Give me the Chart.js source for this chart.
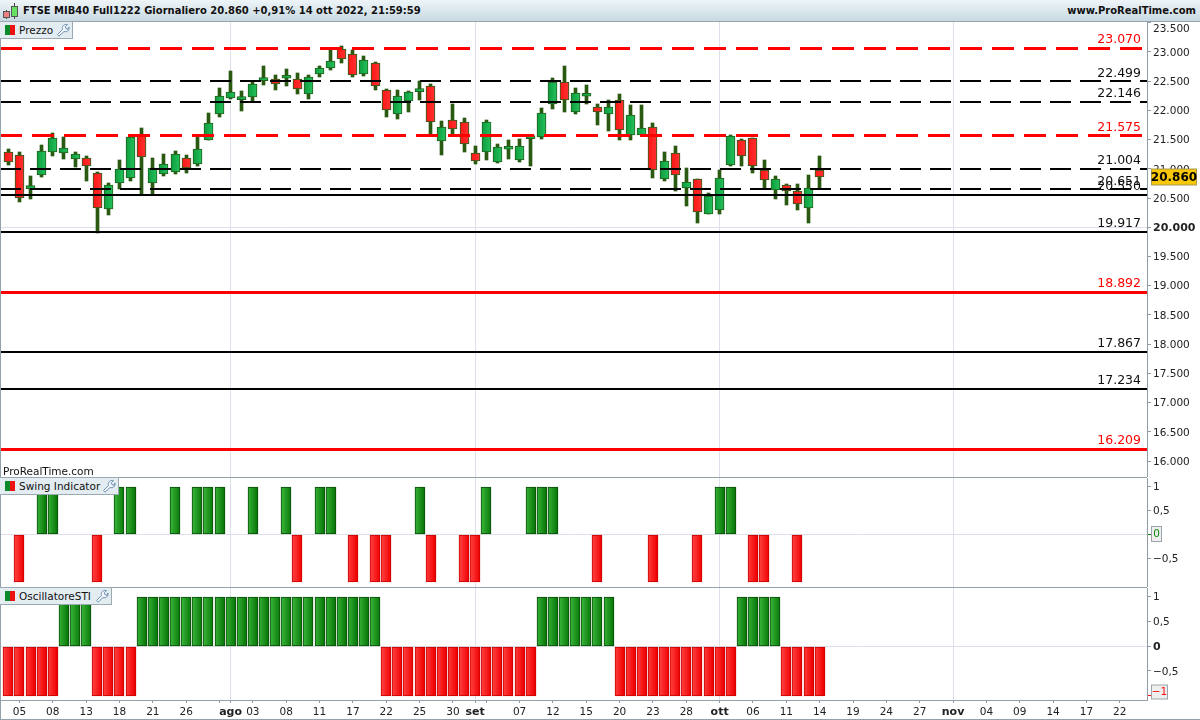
<!DOCTYPE html>
<html>
<head>
<meta charset="utf-8">
<title>FTSE MIB40</title>
<script src="https://cdn.jsdelivr.net/npm/chart.js@4/dist/chart.umd.min.js"></script>
<style>
    body { margin: 0; background: #fff; font-family: "DejaVu Sans", sans-serif; color: #111; overflow: hidden; }
    #page { position: relative; width: 1200px; height: 720px; overflow: hidden; }
    canvas { position: absolute; left: 0; }
    #header { position: absolute; left: 0; top: 0; width: 1200px; height: 21px; background: linear-gradient(#eef5f8, #c8d9e2); border-bottom: 1px solid #93a4ad; font-family: "DejaVu Sans Condensed", "DejaVu Sans", sans-serif; font-weight: bold; font-size: 11.1px; line-height: 22px; }
    #title { position: absolute; left: 23px; top: 0; white-space: nowrap; }
    #site { position: absolute; right: 4px; top: 0; white-space: nowrap; }
    .rule { position: absolute; left: 0; width: 1147px; height: 1px; background: #93a1a9; }
    .tab { position: absolute; left: 0; height: 16px; background: #e3ecf1; border: 1px solid #9aa9b2; border-left: 0; font-size: 10.5px; line-height: 16px; padding-left: 19px; white-space: nowrap; }
    .tab i { position: absolute; left: 5px; top: 3px; width: 5px; height: 10px; background: #0a8a2a; border-right: 5px solid #ee1111; }
    .tab svg { position: absolute; right: 2px; top: 1px; }
    #brand { position: absolute; left: 3px; top: 464px; font-size: 10.5px; line-height: 14px; }
</style>
</head>
<body>
<div id="page">
    <canvas id="priceChart" width="1200" height="455" style="top:22px"></canvas>
    <canvas id="swingChart" width="1200" height="109" style="top:478px"></canvas>
    <canvas id="stiChart" width="1200" height="132" style="top:588px"></canvas>
    <div id="header">
        <svg style="position:absolute;left:2px;top:3px" width="17" height="17" viewBox="0 0 17 17">
            <path d="M4.5 7V16M12.5 0V16" stroke="#444" fill="none"/>
            <rect x="1.5" y="8.5" width="6" height="6" fill="#f08080" stroke="#555"/>
            <rect x="9.5" y="3.5" width="6" height="10" fill="#66e060" stroke="#555"/>
        </svg>
        <span id="title">FTSE MIB40 Full1222 Giornaliero 20.860 +0,91% 14 ott 2022, 21:59:59</span>
        <span id="site">www.ProRealTime.com</span>
    </div>
    <div class="rule" style="top:477px"></div>
    <div class="rule" style="top:587px"></div>
    <div class="rule" style="top:700px"></div>
    <div class="rule" style="top:719px;width:1200px"></div>
    <div class="rule" style="top:22px;width:1px;height:697px"></div>
    <div id="brand">ProRealTime.com</div>
    <div class="tab" style="top:21px;width:53px">Prezzo</div>
    <div class="tab" style="top:477px;width:99px">Swing Indicator</div>
    <div class="tab" style="top:587px;width:92px">OscillatoreSTI</div>
</div>

<script>
// candles, oldest first (04 lug -> 14 ott 2022)
const opens = [21284, 21232, 20661, 20900, 21294, 21277, 21174, 21181, 20924, 20308, 20763, 20849, 21574, 20763, 20917, 20952, 21181, 21088, 21489, 21944, 22218, 22184, 22225, 22509, 22533, 22550, 22543, 22286, 22629, 22721, 23051, 22961, 22629, 22807, 22345, 21944, 22167, 22321, 22413, 21472, 21831, 21797, 21266, 21294, 21123, 21335, 21157, 21516, 21550, 22105, 22482, 21973, 22242, 22054, 21944, 22173, 21574, 21585, 21711, 20832, 21266, 20678, 20822, 20233, 20301, 21071, 21489, 21523, 20975, 20633, 20719, 20616, 20325, 20975];
const highs = [21340, 21284, 20878, 21408, 21609, 21545, 21289, 21220, 20941, 20753, 21152, 21562, 21699, 21186, 21254, 21311, 21237, 21550, 21956, 22384, 22675, 22333, 22492, 22760, 22601, 22704, 22641, 22601, 22760, 23034, 23103, 23034, 22932, 22829, 22367, 22350, 22333, 22504, 22452, 21819, 22110, 21871, 21391, 21836, 21426, 21494, 21511, 21550, 22042, 22555, 22760, 22384, 22435, 22110, 22179, 22281, 22093, 22093, 21785, 21289, 21391, 21015, 20822, 20587, 20981, 21580, 21511, 21528, 21152, 20878, 20736, 20741, 20895, 21220];
const lows = [21071, 20438, 20484, 20866, 21225, 21174, 21027, 20792, 19897, 20210, 20655, 20797, 20570, 20570, 20883, 20912, 20934, 21054, 21489, 21888, 22191, 21995, 22161, 22440, 22355, 22423, 22286, 22196, 22572, 22697, 22817, 22572, 22594, 22350, 21888, 21853, 21973, 22179, 21580, 21237, 21597, 21289, 21083, 21152, 21100, 21169, 21118, 21049, 21511, 22025, 21973, 21939, 22110, 21751, 21648, 21494, 21494, 21585, 20844, 20792, 20621, 20365, 20074, 20233, 20228, 21049, 21049, 20929, 20673, 20484, 20382, 20296, 20074, 20673];
const closes = [21123, 20496, 20707, 21301, 21523, 21352, 21249, 21054, 20325, 20719, 20993, 21540, 21198, 21010, 21078, 21249, 21020, 21335, 21780, 22242, 22310, 22208, 22447, 22521, 22447, 22601, 22362, 22567, 22721, 22841, 22875, 22612, 22858, 22423, 22013, 22242, 22310, 22345, 21797, 21711, 21687, 21431, 21140, 21797, 21369, 21357, 21386, 21545, 21951, 22487, 22184, 22293, 22276, 21978, 22054, 21660, 21917, 21694, 20975, 21129, 20890, 20770, 20257, 20536, 20838, 21557, 21225, 21054, 20804, 20821, 20616, 20394, 20667, 20860];

const levelValues = [23070, 22499, 22146, 21575, 21004, 20651, 20550, 19917, 18892, 17867, 17234, 16209];
const levelLabels = ["23.070", "22.499", "22.146", "21.575", "21.004", "20.651", "20.550", "19.917", "18.892", "17.867", "17.234", "16.209"];
const levelColors = ["#ff0000", "#000000", "#000000", "#ff0000", "#000000", "#000000", "#000000", "#000000", "#ff0000", "#000000", "#000000", "#ff0000"];
const levelDashed = [true, true, true, true, true, true, false, false, false, false, false, false];

const swingValues = [0, -1, 0, 1, 1, 0, 0, 0, -1, 0, 1, 1, 0, 0, 0, 1, 0, 1, 1, 1, 0, 0, 1, 0, 0, 1, -1, 0, 1, 1, 0, -1, 0, -1, -1, 0, 0, 1, -1, 0, 0, -1, -1, 1, 0, 0, 0, 1, 1, 1, 0, 0, 0, -1, 0, 0, 0, 0, -1, 0, 0, 0, -1, 0, 1, 1, 0, -1, -1, 0, 0, -1, 0, 0];
const stiValues = [-1, -1, -1, -1, -1, 1, 1, 1, -1, -1, -1, -1, 1, 1, 1, 1, 1, 1, 1, 1, 1, 1, 1, 1, 1, 1, 1, 1, 1, 1, 1, 1, 1, 1, -1, -1, -1, -1, -1, -1, -1, -1, -1, -1, -1, -1, -1, -1, 1, 1, 1, 1, 1, 1, 1, -1, -1, -1, -1, -1, -1, -1, -1, -1, -1, -1, 1, 1, 1, 1, -1, -1, -1, -1];

const priceTicks = [23500, 23000, 22500, 22000, 21500, 21000, 20500, 20000, 19500, 19000, 18500, 18000, 17500, 17000, 16500, 16000];
const priceTickLabels = ["23.500", "23.000", "22.500", "22.000", "21.500", "21.000", "20.500", "20.000", "19.500", "19.000", "18.500", "18.000", "17.500", "17.000", "16.500", "16.000"];
const swingTicks = [1, 0.5, 0, -0.5];
const swingTickLabels = ["1", "0,5", "", "\u22120,5"];
const stiTicks = [1, 0.5, 0, -0.5, -1];
const stiTickLabels = ["1", "0,5", "0", "\u22120,5", ""];

// slot of each date label on the time axis, empty label = tick only
const dateTickSlots = [1, 4, 7, 10, 13, 16, 19, 20, 22, 25, 28, 31, 34, 37, 40, 42, 43, 46, 49, 52, 55, 58, 61, 64, 67, 70, 73, 76, 79, 82, 85, 88, 91, 94, 97, 100];
const dateTickLabels = ["05", "08", "13", "18", "21", "26", "", "ago", "03", "08", "11", "17", "22", "25", "30", "set", "", "07", "12", "15", "20", "23", "28", "ott", "06", "11", "14", "19", "24", "27", "nov", "04", "09", "14", "17", "22"];
const monthLabels = ["ago", "set", "ott", "nov"];

const slotMin = -0.75;
const slotMax = 102.45;
const fontName = '"DejaVu Sans", sans-serif';
const frameColor = "#8f9da5";
const lightLine = "#dde0ea";

function barFill(ctx, width, edge, middle) {
    if (ctx.raw === undefined || ctx.raw === null) return middle;
    let x = Math.floor(ctx.chart.scales.x.getPixelForValue(ctx.raw.x));
    if (!isFinite(x)) return middle; // scale not laid out yet
    let gradient = ctx.chart.ctx.createLinearGradient(x - width / 2, 0, x + width / 2, 0);
    gradient.addColorStop(0, edge);
    gradient.addColorStop(1, middle);
    return gradient;
}

function clearPadding(scale) {
    scale.paddingTop = 0;
    scale.paddingBottom = 0;
    scale.paddingLeft = 0;
    scale.paddingRight = 0;
}

// same dated x axis under the three panels, labels only on the last one
function timeAxis(showLabels) {
    return {
        type: "linear",
        offset: false,
        min: slotMin,
        max: slotMax,
        afterBuildTicks: scale => { scale.ticks = dateTickSlots.map(slot => ({ value: slot })); },
        afterFit: scale => { scale.height = showLabels ? 20 : 0; clearPadding(scale); },
        border: { display: false },
        grid: {
            offset: false,
            drawTicks: showLabels,
            tickLength: 3,
            tickColor: frameColor,
            color: ctx => monthLabels.includes(dateTickLabels[ctx.index]) ? lightLine : "rgba(0,0,0,0)"
        },
        ticks: {
            display: showLabels,
            autoSkip: false,
            maxRotation: 0,
            padding: 3,
            color: "#222",
            font: ctx => monthLabels.includes(dateTickLabels[ctx.index])
                ? { family: fontName, size: 11, weight: "bold" }
                : { family: fontName, size: 10.5 },
            callback: (value, index) => dateTickLabels[index]
        }
    };
}

function valueAxis(min, max, tickValues, tickLabels, boldValue, tickColors) {
    return {
        position: "right",
        offset: false,
        min: min,
        max: max,
        afterBuildTicks: scale => { scale.ticks = tickValues.map(v => ({ value: v })); },
        afterFit: scale => { scale.width = 53; clearPadding(scale); },
        border: { color: frameColor },
        grid: {
            tickLength: 4,
            tickColor: ctx => tickColors[ctx.tick ? ctx.tick.value : ""] || frameColor,
            color: ctx => ctx.tick && ctx.tick.value === boldValue ? lightLine : "rgba(0,0,0,0)"
        },
        ticks: {
            autoSkip: false,
            padding: 2,
            labelOffset: 1,
            color: "#222",
            font: ctx => ctx.tick && ctx.tick.value === boldValue
                ? { family: fontName, size: 11, weight: "bold" }
                : { family: fontName, size: 10.5 },
            // the top price label would run under the header, the plugin draws it lower
            callback: (value, index) => value === 23500 ? "" : tickLabels[index]
        }
    };
}

// snap marks to whole pixels, the reference is not antialiased
const snapPlugin = {
    id: "snap",
    beforeDatasetsDraw(chart) {
        chart.getSortedVisibleDatasetMetas().forEach(meta => {
            meta.data.forEach(el => {
                if (meta.type === "bar") {
                    el.x = el.width % 2 ? Math.floor(el.x) + 0.5 : Math.round(el.x);
                    if (Math.abs(el.base - el.y) > 3) { el.y = Math.round(el.y); el.base = Math.round(el.base); }
                } else {
                    let width = meta.dataset.options.borderWidth;
                    el.y = width % 2 ? Math.round(el.y) + 0.5 : Math.round(el.y);
                }
            });
        });
    }
};

const levelLabelPlugin = {
    id: "levelLabels",
    afterDatasetsDraw(chart) {
        if (chart.canvas.id !== "priceChart") return;
        let ctx = chart.ctx;
        ctx.save();
        ctx.font = "12.5px " + fontName;
        ctx.textAlign = "right";
        ctx.textBaseline = "middle";
        levelValues.forEach((level, i) => {
            ctx.fillStyle = levelColors[i] === "#ff0000" ? "#ff0000" : "#111";
            ctx.fillText(levelLabels[i], 1141, chart.scales.y.getPixelForValue(level) - 8);
        });
        ctx.font = "10.5px " + fontName;
        ctx.textAlign = "left";
        ctx.fillStyle = "#222";
        ctx.fillText(priceTickLabels[0], 1153, 7);
        ctx.restore();
    }
};

// small boxed value on the right axis
const badgePlugin = {
    id: "badge",
    afterDraw(chart, args, opts) {
        if (!opts.text) return;
        let ctx = chart.ctx;
        let y = Math.round(chart.scales.y.getPixelForValue(opts.value)) + opts.shift;
        ctx.save();
        ctx.font = opts.font;
        ctx.fillStyle = opts.fill;
        ctx.fillRect(1151.5, y - opts.height / 2, opts.width, opts.height);
        ctx.strokeStyle = opts.border;
        ctx.strokeRect(1151.5, y - opts.height / 2, opts.width, opts.height);
        ctx.fillStyle = opts.color;
        ctx.textAlign = "center";
        ctx.textBaseline = "middle";
        ctx.fillText(opts.text, 1151.5 + opts.width / 2, y + 0.5);
        ctx.restore();
    }
};

function panelChart(id, datasets, yAxis, showLabels, badge) {
    return new Chart(document.getElementById(id), {
        type: "bar",
        data: { datasets: datasets },
        options: {
            responsive: false,
            animation: false,
            layout: { padding: 0, autoPadding: false },
            scales: { x: timeAxis(showLabels), y: yAxis },
            plugins: { legend: { display: false }, tooltip: { enabled: false }, badge: badge }
        },
        plugins: [snapPlugin, levelLabelPlugin, badgePlugin]
    });
}

function renderPriceChart() {
    let wicks = {
        order: 3,
        grouped: false,
        barThickness: 3,
        backgroundColor: "#2a5a12",
        data: opens.map((open, i) => ({ x: i, y: [lows[i], highs[i]] }))
    };
    let bodies = {
        order: 2,
        grouped: false,
        barThickness: 9,
        minBarLength: 3,
        borderWidth: 1,
        borderSkipped: false,
        borderColor: "#22601a",
        backgroundColor: ctx => ctx.raw && closes[ctx.raw.x] < opens[ctx.raw.x]
            ? barFill(ctx, 9, "#ff1414", "#ff3030")
            : barFill(ctx, 9, "#0c9a3c", "#24bf5c"),
        data: opens.map((open, i) => ({ x: i, y: [open, closes[i]] }))
    };
    let lines = levelValues.map((level, i) => ({
        type: "line",
        order: 1,
        borderColor: levelColors[i],
        borderWidth: levelColors[i] === "#ff0000" ? 3 : 2,
        borderDash: !levelDashed[i] ? [] : (levelColors[i] === "#ff0000" ? [22, 10] : [21, 9]),
        pointRadius: 0,
        data: [{ x: slotMin, y: level }, { x: slotMax, y: level }]
    }));
    panelChart("priceChart", [...lines, bodies, wicks],
        valueAxis(15727, 23513, priceTicks, priceTickLabels, 20000, {}), false,
        { value: 20860, shift: 0, text: "20.860", font: "bold 12px " + fontName, width: 45, height: 16, fill: "#f8c808", border: "#a89a50", color: "#000" });
}

function indicatorDataset(values) {
    return {
        grouped: false,
        barThickness: 10,
        borderWidth: 1,
        borderSkipped: false,
        borderColor: ctx => ctx.raw && ctx.raw.y < 0 ? "#c80000" : "#0a4a0a",
        backgroundColor: ctx => ctx.raw && ctx.raw.y < 0
            ? barFill(ctx, 10, "#ff4444", "#f00000")
            : barFill(ctx, 10, "#3cb83c", "#087808"),
        data: values.map((v, i) => v === 0 ? { x: i, y: null } : { x: i, y: v })
    };
}

document.addEventListener("DOMContentLoaded", function () {
    let wrench = '<svg width="14" height="14" viewBox="0 0 14 14"><path d="M1.5 11.5L6.5 6.5C5.5 3.5 8 .8 11.5 1.5L9.3 3.7 10 5.7 12 6.3 13 4C13.6 7 11 9.6 8 8.5L3 13.2Z" fill="#f4f8fa" stroke="#6f93b5"/></svg>';
    document.querySelectorAll(".tab").forEach(tab => {
        tab.insertAdjacentHTML("afterbegin", "<i></i>");
        tab.insertAdjacentHTML("beforeend", wrench);
    });

    renderPriceChart();
    panelChart("swingChart", [indicatorDataset(swingValues)],
        valueAxis(-1.107, 1.183, swingTicks, swingTickLabels, 0, { 0: "#0a8a0a" }), false,
        { value: 0, shift: 0, text: "0", font: "10.5px " + fontName, width: 10, height: 15, fill: "#eeeeee", border: "#9aa4aa", color: "#0a8a0a" });
    panelChart("stiChart", [indicatorDataset(stiValues)],
        valueAxis(-1.091, 1.176, stiTicks, stiTickLabels, 0, { "-1": "#ee1111" }), true,
        { value: -1, shift: -4, text: "\u22121", font: "10.5px " + fontName, width: 16, height: 14, fill: "#eeeeee", border: "#9aa4aa", color: "#ff1111" });
});
</script>
</body>
</html>
